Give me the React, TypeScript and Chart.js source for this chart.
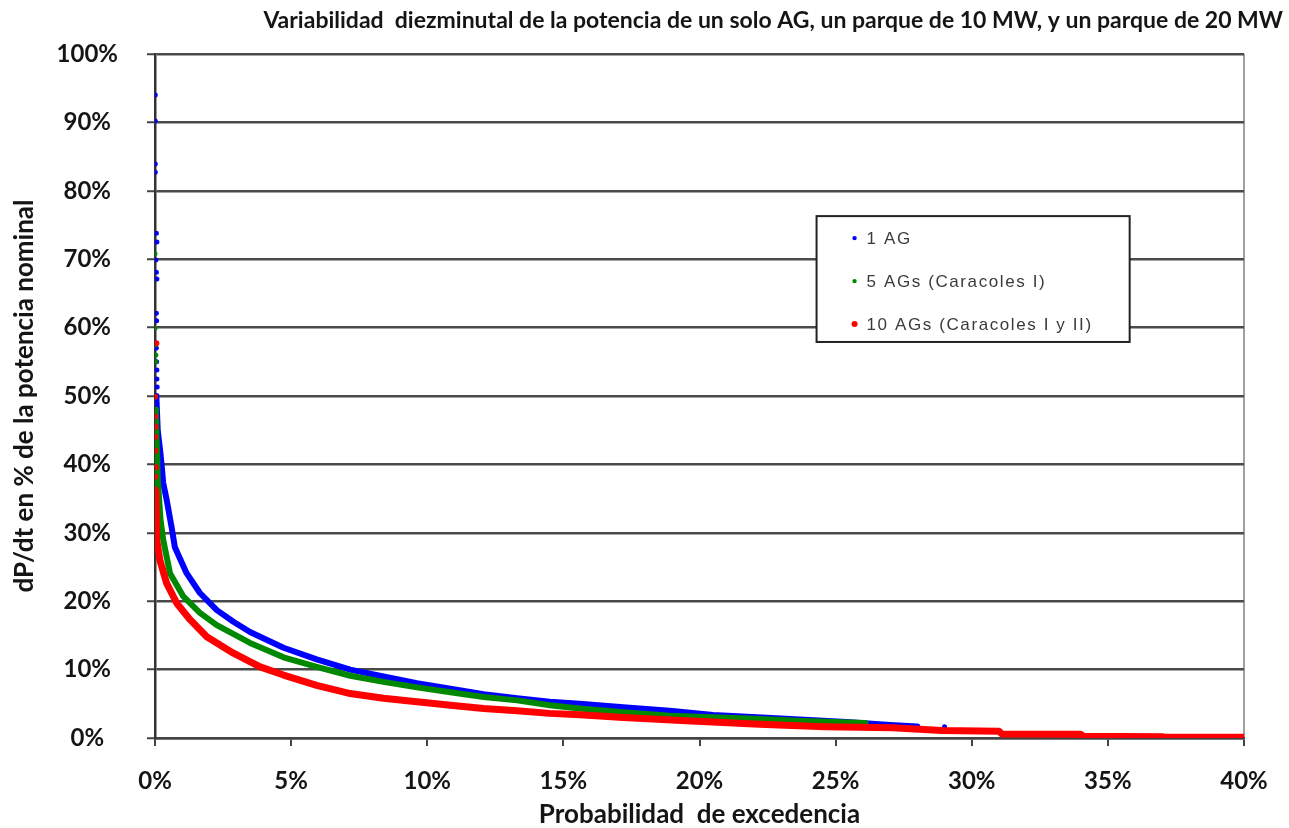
import React, { useEffect, useRef } from 'react';
import { Chart, registerables } from 'chart.js';

Chart.register(...registerables);

const chartTitle = 'Variabilidad  diezminutal de la potencia de un solo AG, un parque de 10 MW, y un parque de 20 MW';
const xAxisTitle = 'Probabilidad  de excedencia';
const yAxisTitle = 'dP/dt en % de la potencia nominal';

const seriesNames = ['1 AG', '5 AGs (Caracoles I)', '10 AGs (Caracoles I y II)'];
const seriesColors = ['#0000ff', '#008800', '#ff0000'];

const xTickValues = [0, 5, 10, 15, 20, 25, 30, 35, 40];
const yTickValues = [0, 10, 20, 30, 40, 50, 60, 70, 80, 90, 100];

// [probabilidad de excedencia %, dP/dt %]
const blueCurve: [number, number][] = [
  [0.05, 50], [0.1, 45], [0.2, 41.6], [0.25, 39.6], [0.3, 37.3], [0.43, 34.8], [0.61, 30.8],
  [0.73, 27.9], [1.16, 24.1], [1.65, 21.2], [2.27, 18.7], [2.88, 17.0], [3.49, 15.5],
  [4.72, 13.2], [5.94, 11.5], [7.17, 10.0], [8.39, 9.0], [9.62, 8.0], [10.85, 7.2],
  [12.07, 6.4], [13.3, 5.8], [14.5, 5.3], [15.6, 5.0], [17.2, 4.5], [18.9, 4.0],
  [20.5, 3.35], [23.0, 2.85], [25.4, 2.35], [27.0, 1.9], [28.0, 1.7],
];
const greenCurve: [number, number][] = [
  [0.03, 48], [0.1, 38], [0.2, 32], [0.3, 29], [0.55, 24.1], [1.04, 20.7], [1.65, 18.3],
  [2.27, 16.5], [3.49, 13.9], [4.72, 11.8], [5.94, 10.4], [7.17, 9.1], [8.39, 8.2],
  [9.62, 7.4], [10.85, 6.7], [12.07, 6.0], [13.3, 5.5], [14.5, 4.8], [15.6, 4.3],
  [17.2, 3.75], [18.9, 3.25], [21.8, 2.85], [23.8, 2.5], [26.1, 2.2],
];
const redCurve: [number, number][] = [
  [0.03, 36], [0.06, 29], [0.18, 26], [0.43, 22.6], [0.8, 19.7], [1.29, 17.3], [1.9, 14.8],
  [2.88, 12.4], [3.86, 10.4], [4.72, 9.2], [5.94, 7.7], [7.17, 6.5], [8.39, 5.8],
  [9.62, 5.3], [10.85, 4.8], [12.07, 4.3], [13.3, 4.0], [14.5, 3.6], [15.6, 3.4],
  [17.2, 3.0], [19.7, 2.5], [22.2, 2.0], [24.6, 1.65], [27.1, 1.5], [28.9, 1.1],
  [31.0, 1.0], [31.1, 0.6], [34.0, 0.55], [34.1, 0.25], [37.0, 0.2], [37.1, 0.1], [40.0, 0.1],
];

// isolated extreme values near 0 %
const bluePeaks: [number, number][] = [
  [0.01, 94.0], [0.01, 90.2], [0.01, 83.9], [0.01, 82.7], [0.05, 73.8], [0.07, 72.5],
  [0.03, 69.9], [0.05, 68.1], [0.07, 67.1], [0.05, 62.1], [0.06, 61.0], [0.05, 57.0],
  [0.06, 55.0], [0.07, 53.8], [0.07, 52.5], [0.08, 51.3], [29.0, 1.65],
];
const greenPeaks: [number, number][] = [
  [0.0, 70.8], [0.0, 59.9], [0.02, 57.5], [0.03, 56.0], [0.03, 55.0], [0.05, 48.0],
  [0.05, 47.0], [0.06, 46.0],
];
const redPeaks: [number, number][] = [
  [0.05, 57.7], [0.0, 49.9], [0.01, 47.0], [0.02, 45.5], [0.01, 44.0], [0.01, 42.0],
  [0.03, 39.6], [0.01, 38.2], [0.03, 36.3],
];

const toPts = (arr: [number, number][]) => arr.map(([x, y]) => ({ x, y }));

const FONT = 'Lato, "Open Sans", sans-serif';

const titlePlugin = {
  id: 'customTitle',
  afterDraw(chart: any) {
    const { ctx, chartArea } = chart;
    ctx.save();
    ctx.font = `bold 23px ${FONT}`;
    ctx.fillStyle = '#151515';
    ctx.textAlign = 'right';
    ctx.textBaseline = 'middle';
    ctx.fillText(chartTitle, chartArea.right + 39, 21);
    ctx.restore();
  },
};

const legendPlugin = {
  id: 'boxLegend',
  afterDraw(chart: any) {
    const { ctx } = chart;
    const xs = chart.scales.x;
    const ys = chart.scales.y;
    const left = xs.getPixelForValue(24.3);
    const right = xs.getPixelForValue(35.8);
    const top = ys.getPixelForValue(76.3);
    const bottom = ys.getPixelForValue(57.9);
    ctx.save();
    ctx.fillStyle = '#ffffff';
    ctx.fillRect(left, top, right - left, bottom - top);
    ctx.strokeStyle = '#222';
    ctx.lineWidth = 2;
    ctx.strokeRect(left, top, right - left, bottom - top);
    ctx.font = '17px "Liberation Sans", Arial, sans-serif';
    (ctx as any).letterSpacing = '1.6px';
    ctx.textAlign = 'left';
    ctx.textBaseline = 'middle';
    seriesNames.forEach((name, i) => {
      const y = top + 22 + i * 43;
      ctx.fillStyle = seriesColors[i];
      ctx.beginPath();
      ctx.arc(left + 38, y, i === 2 ? 3 : 2.2, 0, Math.PI * 2);
      ctx.fill();
      ctx.fillStyle = '#3a3a3a';
      ctx.fillText(name, left + 50, y + 1);
    });
    ctx.restore();
  },
};

export default function App() {
  const canvasRef = useRef<HTMLCanvasElement | null>(null);

  useEffect(() => {
    document.body.style.margin = '0';
    const canvas = canvasRef.current;
    if (!canvas) return;

    const curve = (data: [number, number][], color: string, width: number, order: number) => ({
      data: toPts(data),
      showLine: true,
      borderColor: color,
      backgroundColor: color,
      borderWidth: width,
      pointRadius: 0,
      tension: 0,
      borderJoinStyle: 'round' as const,
      borderCapStyle: 'round' as const,
      order,
    });
    const peaks = (data: [number, number][], color: string, r: number, order: number) => ({
      data: toPts(data),
      showLine: false,
      borderColor: color,
      backgroundColor: color,
      pointRadius: r,
      pointBorderWidth: 0,
      order,
    });

    const chart = new Chart(canvas, {
      type: 'scatter',
      data: {
        datasets: [
          curve(blueCurve, seriesColors[0], 6, 5),
          peaks(bluePeaks, seriesColors[0], 2.5, 4),
          curve(greenCurve, seriesColors[1], 6, 3),
          peaks(greenPeaks, seriesColors[1], 2.5, 2),
          curve(redCurve, seriesColors[2], 7, 1),
          peaks(redPeaks, seriesColors[2], 3, 0),
        ],
      },
      options: {
        animation: false,
        responsive: false,
        devicePixelRatio: 1,
        layout: { padding: { top: 54, left: 0, right: 45, bottom: 0 } },
        plugins: {
          legend: { display: false },
          title: { display: false },
          tooltip: { enabled: false },
        },
        scales: {
          x: {
            type: 'linear',
            min: 0,
            max: 40,
            afterBuildTicks: (scale: any) => {
              scale.ticks = xTickValues.map((v) => ({ value: v }));
            },
            afterFit: (scale: any) => {
              scale.height = 90;
            },
            ticks: {
              callback: (v: any) => `${v}%`,
              font: { family: FONT, size: 24, weight: 'bold' },
              color: '#151515',
              padding: 21,
              maxRotation: 0,
            },
            grid: {
              drawOnChartArea: true,
              color: (c: any) => (c.index === xTickValues.length - 1 ? '#a0a0a0' : 'rgba(0,0,0,0)'),
              lineWidth: 2,
              tickColor: '#444',
              tickLength: 8,
              tickWidth: 2,
            },
            border: { color: '#444', width: 2.5 },
            title: {
              display: true,
              text: xAxisTitle,
              font: { family: FONT, size: 26, weight: 'bold' },
              color: '#151515',
              padding: { top: 0, bottom: -2 },
            },
          },
          y: {
            type: 'linear',
            min: 0,
            max: 100,
            afterBuildTicks: (scale: any) => {
              scale.ticks = yTickValues.map((v) => ({ value: v }));
            },
            afterFit: (scale: any) => {
              scale.width = 155;
            },
            ticks: {
              callback: (v: any) => `${v}%`,
              font: { family: FONT, size: 24, weight: 'bold' },
              color: '#151515',
              padding: 29,
              crossAlign: 'center',
            },
            grid: {
              color: '#4a4a4a',
              lineWidth: 2.5,
              tickColor: '#444',
              tickLength: 8,
              tickWidth: 2,
            },
            border: { color: '#333', width: 2.5 },
            title: {
              display: true,
              text: yAxisTitle,
              font: { family: FONT, size: 26, weight: 'bold' },
              color: '#151515',
              padding: { top: 9, bottom: 0 },
            },
          },
        },
      } as any,
      plugins: [titlePlugin, legendPlugin],
    });

    return () => chart.destroy();
  }, []);

  return (
    <div style={{ width: 1289, height: 828, background: '#fff' }}>
      <canvas ref={canvasRef} width={1289} height={828} style={{ display: 'block' }} />
    </div>
  );
}
